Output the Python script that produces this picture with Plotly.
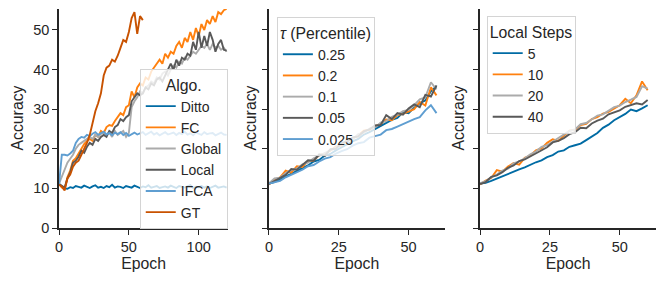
"""
Accuracy vs. epoch: algorithm comparison, tau sweep, local-steps sweep.
"""
import plotly.graph_objects as go
from plotly.subplots import make_subplots

# ── data (sampled every 2 epochs) ─────────────────────────────────────
ALGO_NAMES = ["Ditto", "FC", "Global", "Local", "IFCA", "GT"]
DITTO = [11.2, 10.5, 10.0, 9.9, 10.3, 10.1, 10.6, 10.4, 10.2, 10.7, 10.3, 10.1, 10.5, 10.8, 10.2, 10.4,
         10.1, 10.6, 10.3, 10.9, 10.2, 10.5, 10.4, 10.1, 10.6, 10.3, 10.2, 10.7, 10.4, 10.1, 10.5, 10.3,
         10.8, 10.2, 10.4, 10.6, 10.1, 10.3, 10.5, 10.2, 10.7, 10.4, 10.1, 10.6, 10.3, 10.2, 10.5, 10.8,
         10.1, 10.4, 10.3, 10.6, 10.2, 10.5, 10.1, 10.4, 10.7, 10.2, 10.3, 10.5, 10.2]
FC = [11.0, 10.2, 9.8, 12.8, 14.5, 17.0, 17.6, 18.8, 20.0, 21.2, 22.0, 22.5, 22.0, 23.5, 23.0, 24.5,
      24.0, 25.5, 26.0, 25.8, 27.0, 28.0, 29.0, 28.5, 30.5, 31.0, 34.5, 33.0, 35.5, 36.5, 36.0, 38.0,
      37.5, 39.5, 40.5, 41.5, 42.5, 41.5, 44.0, 43.0, 44.5, 44.0, 46.0, 47.0, 45.5, 48.0, 47.0, 49.5,
      47.5, 50.5, 48.5, 51.5, 50.0, 52.5, 51.5, 53.5, 52.0, 54.5, 54.0, 55.0, 55.3]
GLOBAL = [11.2, 13.0, 15.0, 16.5, 17.5, 18.5, 20.0, 21.0, 21.5, 22.0, 22.5, 23.0, 22.5, 23.5, 23.0, 23.8,
          24.0, 23.5, 24.2, 23.0, 24.5, 23.5, 24.0, 24.5, 23.0, 24.0, 30.5, 32.0, 33.0, 34.5, 34.0, 35.5,
          36.0, 37.0, 36.5, 38.0, 37.5, 39.0, 39.5, 38.5, 40.0, 41.0, 40.5, 42.0, 41.5, 43.0, 42.5, 43.5,
          44.5, 44.0, 45.0, 46.0, 45.5, 46.5, 45.0, 46.5, 45.5, 46.0, 45.0, 45.5, 44.5]
LOCAL = [11.0, 10.5, 10.2, 12.5, 14.0, 16.5, 17.0, 18.0, 19.5, 19.0, 20.5, 21.5, 21.0, 22.5, 22.0, 23.0,
         23.5, 23.0, 24.5, 24.0, 25.5, 26.0, 27.5, 27.0, 28.0, 28.5, 32.0, 33.0, 34.0, 33.5, 34.0, 35.5,
         35.0, 36.5, 36.0, 37.5, 38.0, 37.0, 38.5, 40.0, 41.5, 40.0, 42.5, 41.0, 43.0, 42.5, 44.0, 43.5,
         47.0, 45.0, 49.5, 45.5, 48.5, 46.0, 49.5, 47.5, 44.5, 46.5, 47.5, 45.0, 44.8]
IFCA = [11.0, 18.5, 18.5, 18.3, 18.8, 19.5, 21.5, 22.5, 23.0, 22.8, 23.5, 23.2, 23.8, 24.2, 23.5, 23.9,
        24.3, 23.6, 24.0, 23.4, 24.1, 23.7, 24.2, 23.5, 24.0, 23.3, 23.8, 24.1, 23.6, 23.9, 24.2, 23.5,
        23.8, 24.3, 23.6, 24.0, 23.4, 23.9, 24.2, 23.6, 23.8, 24.1, 23.5, 24.0, 23.7, 24.3, 23.6, 23.9,
        23.4, 24.1, 23.8, 23.5, 24.2, 23.7, 23.9, 24.0, 23.4, 23.8, 24.1, 23.6, 23.5]
GT = [11.0, 10.5, 9.5, 12.5, 13.5, 15.5, 16.5, 17.0, 18.5, 20.0, 21.5, 23.5, 26.5, 29.5, 31.5, 34.0,
      38.5, 40.5, 41.0, 42.5, 42.0, 43.5, 45.5, 47.5, 47.0, 49.5, 53.0, 54.5, 49.0, 53.5, 52.5]

TAU_NAMES = ["0.25", "0.2", "0.1", "0.05", "0.025"]
TAU_025 = [11.2, 11.6, 12.3, 13.0, 13.8, 14.5, 15.1, 15.8, 16.8, 17.2, 18.3, 18.7, 19.6, 20.4, 21.0, 21.9,
           22.5, 23.6, 24.2, 25.0, 25.6, 26.5, 27.3, 27.8, 29.2, 29.0, 30.4, 31.5, 32.2, 34.5, 35.8]
TAU_02 = [11.0, 12.2, 12.8, 14.5, 14.0, 15.6, 15.4, 16.9, 17.0, 18.4, 18.8, 19.5, 20.6, 20.8, 22.3, 22.5,
          23.4, 24.6, 24.8, 25.7, 26.2, 27.4, 27.2, 28.5, 28.8, 29.5, 30.0, 31.8, 30.9, 35.5, 33.5]
TAU_01 = [11.3, 12.5, 12.7, 13.9, 14.6, 15.0, 16.1, 16.5, 17.6, 18.2, 18.9, 19.6, 20.3, 21.2, 22.0, 22.4,
          23.7, 24.0, 25.1, 25.4, 26.6, 27.0, 28.1, 28.6, 29.5, 29.8, 31.0, 32.5, 33.0, 36.8, 35.0]
TAU_005 = [11.1, 11.9, 12.6, 13.4, 14.9, 14.7, 15.9, 17.1, 17.0, 18.6, 18.2, 19.9, 20.0, 21.5, 21.8, 22.9,
           23.1, 24.4, 24.9, 25.9, 26.0, 28.5, 27.5, 29.0, 28.6, 30.2, 31.2, 30.5, 33.6, 33.2, 36.0]
TAU_0025 = [11.2, 11.5, 11.9, 12.8, 13.4, 14.1, 14.7, 15.6, 15.9, 16.8, 17.5, 17.9, 18.8, 19.4, 19.9, 20.8,
            21.4, 21.7, 22.8, 23.2, 23.6, 24.7, 25.0, 25.6, 26.3, 26.8, 27.5, 28.0, 29.7, 31.0, 29.0]

STEP_NAMES = ["5", "10", "20", "40"]
STEPS_5 = [11.2, 11.4, 11.9, 12.5, 13.2, 13.6, 14.2, 14.8, 15.3, 16.0, 16.6, 17.1, 17.9, 18.4, 19.3, 19.6,
           20.5, 20.9, 21.3, 22.2, 23.2, 24.0, 25.3, 26.1, 27.2, 28.0, 28.8, 29.9, 29.5, 30.2, 31.0]
STEPS_10 = [11.0, 12.0, 12.6, 14.6, 14.2, 15.5, 16.4, 16.0, 17.7, 18.3, 19.6, 20.1, 21.5, 22.4, 22.0, 23.2,
            24.6, 24.8, 26.0, 26.3, 27.5, 28.0, 28.9, 29.3, 30.2, 31.0, 32.6, 31.5, 33.5, 37.0, 34.8]
STEPS_20 = [11.3, 11.8, 12.8, 13.5, 14.5, 15.0, 16.3, 16.8, 17.6, 18.6, 19.3, 20.5, 20.9, 21.8, 22.8, 23.5,
            24.5, 24.9, 26.2, 26.5, 27.4, 28.4, 28.7, 29.6, 30.5, 30.9, 31.8, 32.4, 33.1, 35.8, 35.2]
STEPS_40 = [11.1, 11.6, 12.9, 13.3, 14.1, 15.2, 15.8, 16.9, 17.3, 18.1, 19.0, 19.8, 20.4, 21.6, 22.0, 22.7,
            23.7, 24.2, 25.3, 25.2, 26.4, 27.1, 27.6, 28.7, 29.2, 29.7, 30.6, 31.1, 31.5, 31.2, 32.3]

# tableau-colorblind10
COLORS = ["#006BA4", "#FF800E", "#ABABAB", "#595959", "#5F9ED1", "#C85200"]
INK = "#262626"
FONT = "Liberation Sans, Arial, sans-serif"
TICK_SIZE = 14.5
LEGEND_SIZE = 14
LABEL_SIZE = 15.8


def epochs(values):
    return [2 * i for i in range(len(values))]


fig = make_subplots(rows=1, cols=3)

panels = [
    (1, "legend", ALGO_NAMES, [DITTO, FC, GLOBAL, LOCAL, IFCA, GT]),
    (2, "legend2", TAU_NAMES, [TAU_025, TAU_02, TAU_01, TAU_005, TAU_0025]),
    (3, "legend3", STEP_NAMES, [STEPS_5, STEPS_10, STEPS_20, STEPS_40]),
]
for col, leg, names, series in panels:
    for i, (name, ys) in enumerate(zip(names, series)):
        fig.add_trace(
            go.Scatter(x=epochs(ys), y=ys, mode="lines", name=name, legend=leg,
                       line=dict(color=COLORS[i], width=1.9)),
            row=1, col=col,
        )

axis_common = dict(
    showline=True, linecolor=INK, linewidth=1.6, mirror=False,
    ticks="outside", ticklen=5, tickwidth=1.4, tickcolor=INK,
    showgrid=False, zeroline=False, automargin=False,
    tickfont=dict(size=TICK_SIZE, color=INK, family=FONT),
)

domains = [(0.0889, 0.3434), (0.405, 0.670), (0.723, 0.988)]
xranges = [[0, 121], [0, 63], [0, 63]]
xdticks = [50, 25, 25]
ylabel_x = [17, 250, 458]   # px centre of the rotated "Accuracy" labels
for k in range(3):
    fig.update_xaxes(axis_common, domain=domains[k], range=xranges[k], dtick=xdticks[k],
                     title=dict(text="Epoch", font=dict(size=LABEL_SIZE, color=INK, family=FONT),
                                standoff=4),
                     row=1, col=k + 1)
    fig.update_yaxes(axis_common, domain=[0, 1], range=[0, 55.3], dtick=10,
                     showticklabels=(k == 0), row=1, col=k + 1)
    fig.add_annotation(
        text="Accuracy", textangle=-90, showarrow=False,
        x=ylabel_x[k] / 664, y=0.5, xref="paper", yref="paper",
        xanchor="center", yanchor="middle",
        font=dict(size=LABEL_SIZE, color=INK, family=FONT),
    )

legend_common = dict(
    bgcolor="rgba(255,255,255,0.8)", bordercolor="#d4d4d4", borderwidth=1,
    font=dict(size=LEGEND_SIZE, color=INK, family=FONT), yanchor="top",
)
title_font = dict(size=LABEL_SIZE, color=INK, family=FONT)
fig.update_layout(
    width=664, height=283,
    margin=dict(l=0, r=0, t=9, b=55),
    plot_bgcolor="white", paper_bgcolor="white",
    font=dict(family=FONT, color=INK, size=TICK_SIZE),
    legend=dict(legend_common, x=0.343, xanchor="right", y=0.726,
                title=dict(text="Algo.", side="top center", font=title_font)),
    legend2=dict(legend_common, x=0.417, xanchor="left", y=0.963,
                 title=dict(text="<i>τ</i> (Percentile)", font=title_font)),
    legend3=dict(legend_common, x=0.733, xanchor="left", y=0.968,
                 title=dict(text="Local Steps", font=title_font)),
)

# page body has a default 8px margin; drop it so the figure sits at (0, 0)
fig.write_html("out.html", config={"displayModeBar": False},
               post_script="document.body.style.margin = '0';")
